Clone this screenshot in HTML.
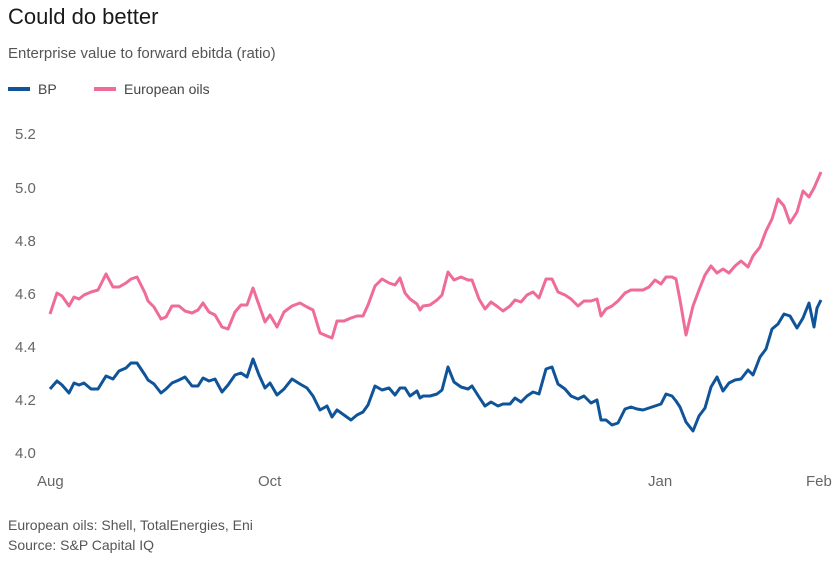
<!DOCTYPE html>
<html><head><meta charset="utf-8"><style>
body{margin:0;background:#fff;width:838px;height:561px;overflow:hidden;font-family:"Liberation Sans",sans-serif;}
</style></head><body>
<svg width="838" height="561" xmlns="http://www.w3.org/2000/svg" font-family="Liberation Sans, sans-serif">
<text x="8" y="24" font-size="22" fill="#1a1a1a">Could do better</text>
<text x="8" y="58" font-size="15" fill="#555">Enterprise value to forward ebitda (ratio)</text>
<line x1="8" y1="89" x2="30" y2="89" stroke="#0f5499" stroke-width="4"/>
<text x="38" y="94" font-size="14" fill="#444">BP</text>
<line x1="94" y1="89" x2="116" y2="89" stroke="#ef6b9a" stroke-width="4"/>
<text x="124" y="94" font-size="14" fill="#444">European oils</text>
<g font-size="15" fill="#666">
<text x="15" y="139">5.2</text><text x="15" y="193">5.0</text><text x="15" y="246">4.8</text>
<text x="15" y="299">4.6</text><text x="15" y="352">4.4</text><text x="15" y="405">4.2</text><text x="15" y="458">4.0</text>
<text x="37" y="486">Aug</text><text x="258" y="486">Oct</text><text x="648" y="486">Jan</text><text x="806" y="486">Feb</text>
</g>
<polyline fill="none" stroke="#ef6b9a" stroke-width="3" stroke-linejoin="round" points="50,314 57,293 62,296 69,306 74,297 79,299 84,295 91,292 98,290 106,274 113,287 119,287 126,283 131,279 137,277 145,293 148,301 154,307 161,319 166,317 172,306 179,306 185,311 192,313 198,310 203,303 209,312 215,315 222,327 228,329 235,312 241,305 247,305 253,288 259,305 265,322 270,315 277,327 284,312 292,306 300,303 307,307 313,310 320,333 327,336 332,338 337,321 344,321 351,318 357,316 363,316 368,305 375,286 382,279 389,283 395,285 400,278 405,293 410,299 417,304 420,310 423,306 430,305 437,300 442,295 448,272 454,280 461,277 468,280 472,280 479,299 485,309 491,302 498,307 503,311 510,306 515,300 521,302 527,295 533,292 539,298 546,279 552,279 558,292 565,295 571,299 578,306 584,301 591,301 597,299 601,316 606,309 612,306 618,301 625,293 631,290 637,290 643,290 649,287 655,280 661,284 666,277 672,277 676,279 680,300 686,335 693,306 699,290 705,275 711,266 717,273 723,269 729,273 735,266 741,261 748,267 753,256 760,247 766,231 772,219 778,199 784,206 790,223 797,212 803,191 809,197 814,188 821,172"/>
<polyline fill="none" stroke="#0f5499" stroke-width="3" stroke-linejoin="round" points="50,389 57,381 62,385 69,393 74,383 79,385 84,383 91,389 98,389 106,376 113,379 119,371 126,368 131,363 137,363 145,375 148,380 154,384 161,393 166,389 172,383 179,380 185,377 192,386 198,386 203,378 209,381 215,379 222,392 228,385 235,375 241,373 247,377 253,359 259,375 265,388 270,383 277,395 284,389 292,379 300,384 307,388 313,396 320,410 327,406 332,417 337,410 344,415 351,420 357,415 363,412 368,405 375,386 382,390 389,388 395,395 400,388 405,388 410,396 417,391 420,398 423,396 430,396 437,394 442,390 448,367 454,382 461,387 468,389 472,386 479,397 485,406 491,402 498,406 503,404 510,404 515,398 521,402 527,396 533,392 539,394 546,369 552,367 558,384 565,389 571,396 578,399 584,396 591,403 597,400 601,420 606,420 612,425 618,423 625,409 631,407 637,409 643,410 649,408 655,406 661,404 666,394 672,396 676,401 680,407 686,422 693,431 699,416 705,408 711,387 717,377 723,391 729,383 735,380 741,379 748,370 753,375 760,357 766,349 772,329 778,324 784,314 790,316 797,328 803,318 809,303 814,327 817,308 821,300"/>
<text x="8" y="530" font-size="14" fill="#555">European oils: Shell, TotalEnergies, Eni</text>
<text x="8" y="550" font-size="14" fill="#555">Source: S&amp;P Capital IQ</text>
</svg>
</body></html>
